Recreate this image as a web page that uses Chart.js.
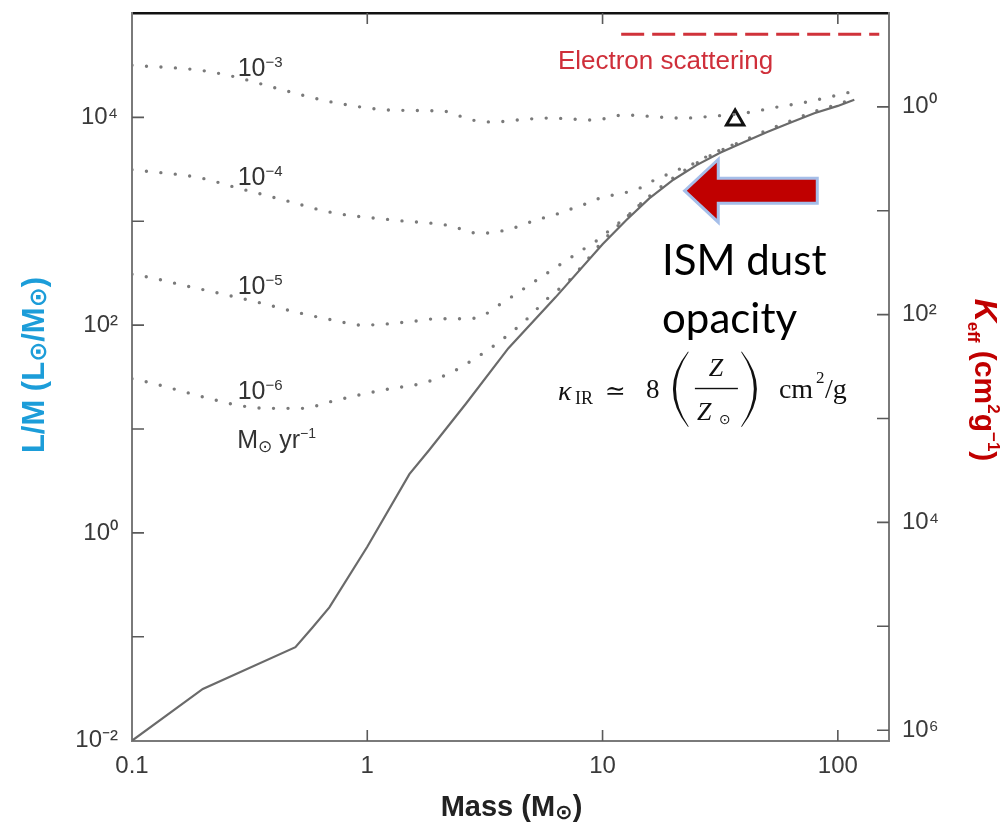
<!DOCTYPE html>
<html>
<head>
<meta charset="utf-8">
<script src="https://cdn.jsdelivr.net/npm/chart.js"></script>
<style>
html,body{margin:0;padding:0;background:#fff;}
#wrap{width:1000px;height:823px;position:relative;}
</style>
</head>
<body>
<div id="wrap"><canvas id="c" width="1000" height="823"></canvas></div>
<script>
// ---------------- data ----------------
// Stellar L/M versus mass (solid curve)
const solidMass = [0.1,0.2,0.495,0.585,0.69,1.0,1.51,1.83,2.63,3.98,6.31,10,12.6,15.8,20,25.1,31.6,39.8,50.1,63.1,79.4,100,117.5];
const solidLM   = [0.01,0.0315,0.0795,0.123,0.192,0.736,3.68,6.25,17.6,60,185,600,1023,1660,2510,3470,4570,5750,7240,8910,10960,12880,14790];

// Accretion luminosity curves (dotted), accretion rates 1e-3 ... 1e-6 Msun/yr
const mass3 = [0.1,0.194,0.268,0.411,0.711,1.33,2.08,2.79,3.45,4.32,5.9,9.16,12.3,22,30.1,40.4,54.6,73.1,113];
const lm3   = [31700,28400,24800,19100,14000,11700,11500,9420,9020,9420,9840,9420,10500,9840,10300,11000,12500,14000,17500];

const mass4 = [0.1,0.194,0.279,0.437,0.711,1.33,2.22,2.98,4.0,4.63,5.3,6.14,7.03,8.15,9.34,10.8,12.5,14.5,16.4,18.7,21.4,24.8,28.1,32.6,39.8];
const lm4   = [3130,2620,2100,1610,1210,1020,910,764,834,931,1040,1135,1270,1415,1615,1766,1885,2100,2455,2800,3200,3650,4265,4980,6000];

const mass5 = [0.1,0.123,0.164,0.253,0.339,0.515,0.711,0.953,1.476,1.98,2.7,3.13,3.52,4.0,5.0,6.63,8.55,9.44,10.5,12.6,15.8];
const lm5   = [309,283,243,195,167,131,112,100,107,115,115,125,149,180,252,385,562,650,790,1100,1760];

const mass6 = [0.1,0.119,0.16,0.214,0.287,0.385,0.525,0.703,0.944,1.26,1.69,2.22,2.9,3.73,4.72,5.8,7.3,8.3,10,12.6,15.8,20,25.1,31.6,39.8,50.1,63.1,79.4,100,117.5];
const lm6   = [30.5,28,23.4,19.6,16.8,15.8,15.8,18.4,21.5,24.5,27.4,34.1,48.5,72.1,112,178,277,385,640,1080,1740,2620,3620,4760,5980,7520,9250,11350,13350,15300];

// Electron scattering opacity (right axis, cm^2/g)
const escMass  = [12, 150];
const escKappa = [0.2, 0.2];

// Triangle marker
const triMass = [36.6];
const triLM   = [9420];

// Axis ticks
const xTickVals   = [0.1, 1, 10, 100];
const xTickLabels = ['0.1', '1', '10', '100'];
const yTickVals   = [0.01, 0.1, 1, 10, 100, 1000, 10000];
const yTickLabels = ['10\u207B\u00B2', '', '10\u2070', '', '10\u00B2', '', '10\u2074'];
const y2TickVals  = [1, 10, 100, 1000, 10000, 100000, 1000000];
const y2TickLabels= ['10\u2070', '', '10\u00B2', '', '10\u2074', '', '10\u2076'];

// Accretion-rate labels
const rateLabels = ['\u22123', '\u22124', '\u22125', '\u22126'];

// ---------------- styling / layout ----------------
const SANS = '"Liberation Sans", Arial, Helvetica, sans-serif';
const SERIF = '"Liberation Serif", "DejaVu Serif", serif';
const DOT = '"DejaVu Sans", sans-serif';

// annotation anchors in data space (mass, L/M)
const notes = {
  rates: [{m:0.2814, lm:25200},{m:0.2814, lm:2230},{m:0.2814, lm:198},{m:0.2814, lm:19.5}],
  unit:  {m:0.28, lm:6.5},
  esc:   {m:6.46, lm:29400},
  ism1:  {m:17.9, lm:301},
  ism2:  {m:17.9, lm:83.8},
  formula: {m:6.46, lm:19.1},
  arrow: {m:22.8, lm:1960}
};

const pts = (xs, ys) => xs.map((v, i) => ({x: v, y: ys[i]}));

function dotted(data) {
  return {
    type: 'line', data, borderColor: '#7a7a7a', borderWidth: 3.4,
    borderDash: [0, 14.5], borderCapStyle: 'round', pointRadius: 0,
    cubicInterpolationMode: 'monotone', fill: false, xAxisID: 'x', yAxisID: 'y'
  };
}

function rich(ctx, parts, x, y, align) {
  let w = 0;
  parts.forEach(p => { ctx.font = p.f; p.w = ctx.measureText(p.t).width; w += p.w; });
  let cx = align === 'center' ? x - w / 2 : (align === 'right' ? x - w : x);
  parts.forEach(p => {
    ctx.font = p.f;
    if (p.c) ctx.fillStyle = p.c;
    ctx.fillText(p.t, cx, y + (p.dy || 0));
    cx += p.w;
  });
}

function paren(ctx, x0, x1, top, bot, left) {
  const mid = (top + bot) / 2;
  ctx.beginPath();
  if (left) {
    ctx.moveTo(x1, top);
    ctx.quadraticCurveTo(2 * x0 - x1, mid, x1, bot);
    ctx.lineTo(x1 + 0.9, bot);
    ctx.quadraticCurveTo(2 * (x0 + 2.6) - x1, mid, x1 + 0.9, top);
  } else {
    ctx.moveTo(x0, top);
    ctx.quadraticCurveTo(2 * x1 - x0, mid, x0, bot);
    ctx.lineTo(x0 - 0.9, bot);
    ctx.quadraticCurveTo(2 * (x1 - 2.6) - x0, mid, x0 - 0.9, top);
  }
  ctx.closePath();
  ctx.fill();
}

const decor = {
  id: 'decor',
  afterDraw(chart) {
    const {ctx, chartArea: a, scales: s} = chart;
    const P = (m, lm) => [s.x.getPixelForValue(m), s.y.getPixelForValue(lm)];
    ctx.save();
    ctx.textAlign = 'left';
    ctx.textBaseline = 'alphabetic';

    // inward tick marks
    ctx.strokeStyle = '#5a5a5a';
    ctx.lineWidth = 1.6;
    ctx.beginPath();
    s.y.ticks.forEach(t => {
      const p = s.y.getPixelForValue(t.value);
      if (p > a.top + 2 && p < a.bottom - 2) { ctx.moveTo(a.left, p); ctx.lineTo(a.left + 12, p); }
    });
    s.y2.ticks.forEach(t => {
      const p = s.y2.getPixelForValue(t.value);
      if (p > a.top + 2 && p < a.bottom - 2) { ctx.moveTo(a.right, p); ctx.lineTo(a.right - 12, p); }
    });
    s.x.ticks.forEach(t => {
      const p = s.x.getPixelForValue(t.value);
      if (p > a.left + 2 && p < a.right - 2) { ctx.moveTo(p, a.bottom); ctx.lineTo(p, a.bottom - 11); }
    });
    s.xTop.ticks.forEach(t => {
      const p = s.xTop.getPixelForValue(t.value);
      if (p > a.left + 2 && p < a.right - 2) { ctx.moveTo(p, a.top); ctx.lineTo(p, a.top + 11); }
    });
    ctx.stroke();

    // axis titles
    const midY = (a.top + a.bottom) / 2;
    ctx.fillStyle = '#1C9DD9';
    ctx.save();
    ctx.translate(a.left - 88, midY - 12);
    ctx.rotate(-Math.PI / 2);
    rich(ctx, [
      {t: 'L/M (L', f: 'bold 31px ' + SANS},
      {t: '\u2299', f: 'bold 24px ' + DOT, dy: 2},
      {t: '/M', f: 'bold 31px ' + SANS},
      {t: '\u2299', f: 'bold 24px ' + DOT, dy: 2},
      {t: ')', f: 'bold 31px ' + SANS}
    ], 0, 0, 'center');
    ctx.restore();

    ctx.fillStyle = '#C00000';
    ctx.save();
    ctx.translate(a.right + 86, midY + 3);
    ctx.rotate(Math.PI / 2);
    rich(ctx, [
      {t: 'K', f: 'italic bold 32px ' + SANS},
      {t: 'eff', f: 'bold 17px ' + SANS, dy: 7},
      {t: ' (cm', f: 'bold 30px ' + SANS},
      {t: '2', f: 'bold 17px ' + SANS, dy: -13},
      {t: 'g', f: 'bold 30px ' + SANS},
      {t: '\u22121', f: 'bold 17px ' + SANS, dy: -13},
      {t: ')', f: 'bold 30px ' + SANS}
    ], 0, 0, 'center');
    ctx.restore();

    ctx.fillStyle = '#222';
    rich(ctx, [
      {t: 'Mass (M', f: 'bold 29px ' + SANS},
      {t: '\u2299', f: 'bold 21px ' + DOT, dy: 3},
      {t: ')', f: 'bold 29px ' + SANS}
    ], (a.left + a.right) / 2 + 1, a.bottom + 75, 'center');

    // accretion-rate labels
    ctx.fillStyle = '#333';
    notes.rates.forEach((n, i) => {
      const [px, py] = P(n.m, n.lm);
      rich(ctx, [
        {t: '10', f: '25px ' + SANS},
        {t: rateLabels[i], f: '15px ' + SANS, dy: -9}
      ], px, py, 'left');
    });
    {
      const [px, py] = P(notes.unit.m, notes.unit.lm);
      rich(ctx, [
        {t: 'M', f: '25px ' + SANS},
        {t: '\u2299', f: '17px ' + DOT, dy: 4},
        {t: ' yr', f: '25px ' + SANS},
        {t: '\u22121', f: '14px ' + SANS, dy: -10}
      ], px, py, 'left');
    }

    // electron scattering label
    {
      const [px, py] = P(notes.esc.m, notes.esc.lm);
      ctx.fillStyle = '#CF2F3A';
      ctx.font = '26px ' + SANS;
      ctx.fillText('Electron scattering', px, py);
    }

    // ISM dust opacity text
    ctx.fillStyle = '#000';
    ctx.font = '42px Lato, "Open Sans", sans-serif';
    {
      const [px, py] = P(notes.ism1.m, notes.ism1.lm);
      ctx.fillText('ISM dust', px, py);
      const [qx, qy] = P(notes.ism2.m, notes.ism2.lm);
      ctx.fillText('opacity', qx, qy);
    }

    // formula kappa_IR ~ 8 (Z/Zsun) cm^2/g
    {
      const [fx, fy] = P(notes.formula.m, notes.formula.lm);
      ctx.fillStyle = '#111';
      const t = (txt, font, dx, dy) => { ctx.font = font; ctx.fillText(txt, fx + dx, fy + dy); };
      t('\u03BA', 'italic 28px ' + SERIF, 0, 0);
      t('IR', '18px ' + SERIF, 17, 4);
      t('\u2243', '25px ' + SERIF, 47, -1);
      t('8', '27px ' + SERIF, 88, -2);
      paren(ctx, fx + 115, fx + 130, fy - 48, fy + 27, true);
      ctx.font = 'italic 26px ' + SERIF;
      const zw = ctx.measureText('Z').width;
      ctx.fillText('Z', fx + 158 - zw / 2, fy - 24);
      ctx.fillRect(fx + 137, fy - 12, 43, 1.4);
      t('Z', 'italic 26px ' + SERIF, 139, 20);
      t('\u2299', '14px ' + DOT, 161, 24);
      paren(ctx, fx + 184, fx + 199, fy - 48, fy + 27, false);
      t('cm', '28px ' + SERIF, 221, -2);
      t('2', '17px ' + SERIF, 258, -17);
      t('/g', '28px ' + SERIF, 267, -2);
    }

    // big arrow pointing at the curve
    {
      const [tx, ty] = P(notes.arrow.m, notes.arrow.lm);
      ctx.beginPath();
      ctx.moveTo(tx, ty);
      ctx.lineTo(tx + 30, ty - 28);
      ctx.lineTo(tx + 30, ty - 11);
      ctx.lineTo(tx + 129, ty - 11);
      ctx.lineTo(tx + 129, ty + 11);
      ctx.lineTo(tx + 30, ty + 11);
      ctx.lineTo(tx + 30, ty + 28);
      ctx.closePath();
      ctx.lineJoin = 'miter';
      ctx.strokeStyle = 'rgba(160,186,232,0.95)';
      ctx.lineWidth = 6;
      ctx.stroke();
      ctx.fillStyle = '#C00000';
      ctx.fill();
    }
    ctx.restore();
  }
};

const tickFont = {family: SANS, size: 24};
const noPad = sc => { sc.paddingTop = 0; sc.paddingBottom = 0; sc.paddingLeft = 0; sc.paddingRight = 0; };

new Chart(document.getElementById('c'), {
  type: 'line',
  data: {
    datasets: [
      {data: pts(solidMass, solidLM), borderColor: '#6a6a6a', borderWidth: 2.2, pointRadius: 0, tension: 0, fill: false, xAxisID: 'x', yAxisID: 'y'},
      dotted(pts(mass3, lm3)),
      dotted(pts(mass4, lm4)),
      dotted(pts(mass5, lm5)),
      dotted(pts(mass6, lm6)),
      {data: pts(escMass, escKappa), borderColor: '#D0323A', borderWidth: 3, borderDash: [23, 8], pointRadius: 0, fill: false, xAxisID: 'x', yAxisID: 'y2'},
      {data: pts(triMass, triLM), showLine: false, pointStyle: 'triangle', pointRadius: 10, borderWidth: 3, borderColor: '#111', backgroundColor: 'rgba(255,255,255,0)', xAxisID: 'x', yAxisID: 'y'}
    ]
  },
  options: {
    responsive: false,
    animation: false,
    devicePixelRatio: 1,
    layout: {padding: 0},
    plugins: {legend: {display: false}, tooltip: {enabled: false}},
    scales: {
      x: {
        type: 'logarithmic', position: 'bottom', min: 0.1, max: 165,
        afterBuildTicks: sc => { sc.ticks = xTickVals.map(v => ({value: v})); },
        ticks: {callback: (v, i) => xTickLabels[i], autoSkip: false, maxRotation: 0, padding: 11, font: tickFont, color: '#3a3a3a'},
        grid: {display: false, drawTicks: false},
        border: {display: true, color: '#7a7a7a', width: 2},
        afterFit: sc => { sc.height = 82; noPad(sc); }
      },
      xTop: {
        type: 'logarithmic', position: 'top', min: 0.1, max: 165,
        afterBuildTicks: sc => { sc.ticks = xTickVals.map(v => ({value: v})); },
        ticks: {display: false},
        grid: {display: false, drawTicks: false},
        border: {display: true, color: '#111', width: 2.5},
        afterFit: sc => { sc.height = 9; noPad(sc); }
      },
      y: {
        type: 'logarithmic', position: 'left', min: 0.00993, max: 101000,
        afterBuildTicks: sc => { sc.ticks = yTickVals.map(v => ({value: v})); },
        ticks: {callback: (v, i) => yTickLabels[i], autoSkip: false, padding: 14, font: tickFont, color: '#3a3a3a'},
        grid: {display: false, drawTicks: false},
        border: {display: true, color: '#7a7a7a', width: 2},
        afterFit: sc => { sc.width = 132; noPad(sc); }
      },
      y2: {
        type: 'logarithmic', position: 'right', reverse: true, min: 0.125, max: 1270000,
        afterBuildTicks: sc => { sc.ticks = y2TickVals.map(v => ({value: v})); },
        ticks: {callback: (v, i) => y2TickLabels[i], autoSkip: false, padding: 13, font: tickFont, color: '#3a3a3a'},
        grid: {display: false, drawTicks: false},
        border: {display: true, color: '#7a7a7a', width: 2},
        afterFit: sc => { sc.width = 111; noPad(sc); }
      }
    }
  },
  plugins: [decor]
});
</script>
</body>
</html>
